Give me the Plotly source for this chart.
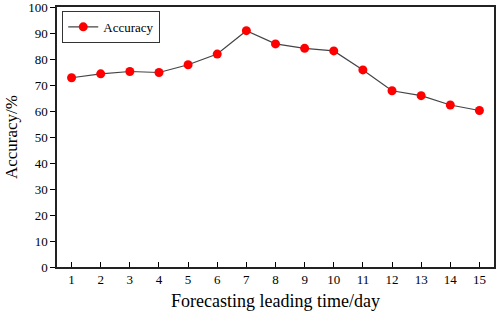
import plotly.graph_objects as go

days = list(range(1, 16))
accuracy = [72.8, 74.3, 75.2, 74.8, 77.8, 81.9, 90.9, 85.8, 84.1, 83.1, 75.8, 67.8, 65.9, 62.3, 60.2]
y_ticks = list(range(0, 101, 10))

font = "Liberation Serif, Times New Roman, serif"

fig = go.Figure()
fig.add_trace(go.Scatter(
    x=days, y=accuracy, mode="lines+markers", name="Accuracy",
    line=dict(color="#444444", width=1.2),
    marker=dict(color="#ff0000", size=9, line=dict(width=0)),
))

fig.update_layout(
    width=498, height=311,
    margin=dict(l=57, r=4, t=7, b=44, autoexpand=False),
    paper_bgcolor="white", plot_bgcolor="white",
    font=dict(family=font, color="black", size=13),
    showlegend=True,
    legend=dict(x=0.012, y=0.985, xanchor="left", yanchor="top",
                bordercolor="#333333", borderwidth=1, bgcolor="white",
                font=dict(family=font, size=13), itemwidth=30,
                tracegroupgap=0),
    xaxis=dict(range=[0.5, 15.5], tickvals=days, ticks="inside", ticklen=5,
               tickcolor="black", showline=True, linecolor="#222222", linewidth=1.5,
               mirror=True, showgrid=False, zeroline=False,
               title=dict(text="Forecasting leading time/day", font=dict(size=18), standoff=8),
               tickfont=dict(size=13)),
    yaxis=dict(range=[0, 100], tickvals=y_ticks, ticks="outside", ticklen=5,
               tickcolor="black", showline=True, linecolor="#222222", linewidth=1.5,
               mirror=True, showgrid=False, zeroline=False,
               ticklabeloverflow="allow",
               title=dict(text="Accuracy/%", font=dict(size=17), standoff=6),
               tickfont=dict(size=13)),
)

fig.write_html("out.html", config={"displayModeBar": False},
               post_script="document.body.style.margin='0';")
